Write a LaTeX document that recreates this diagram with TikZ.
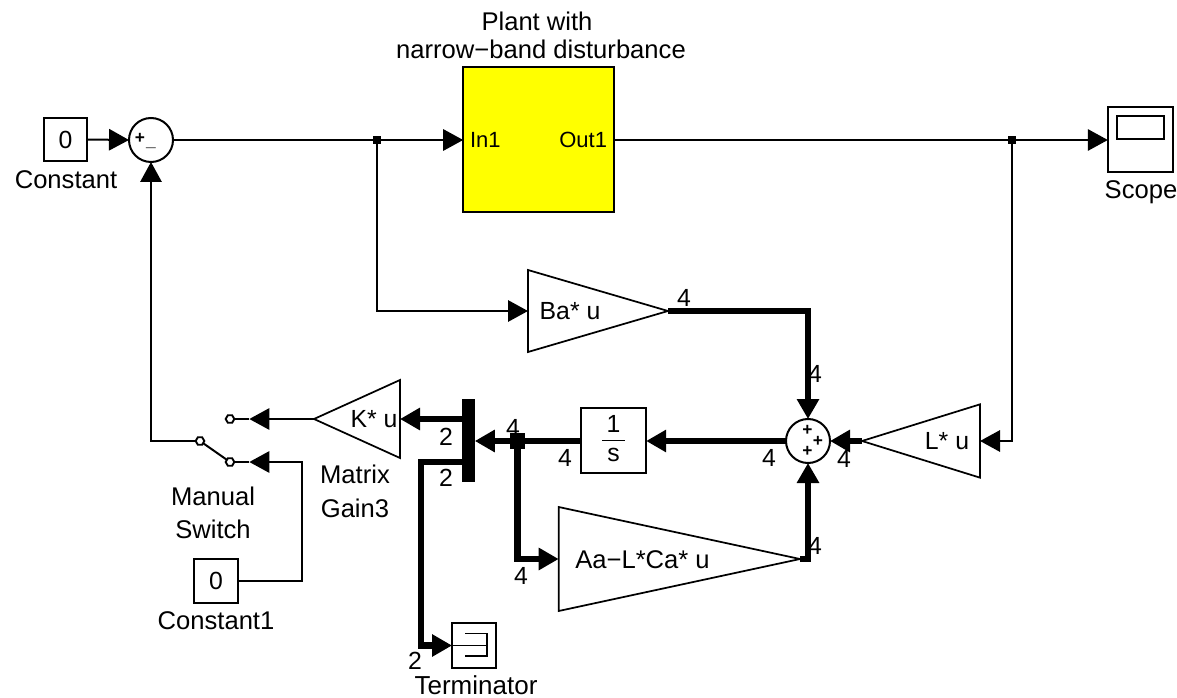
\documentclass[tikz,border=0pt]{standalone}
\usepackage{fontspec}
\setmainfont{Liberation Sans}
\usetikzlibrary{arrows.meta,shapes.geometric,calc}
\definecolor{plantyellow}{RGB}{255,255,0}
\tikzset{
  x=0.75pt,y=-0.75pt,
  txt/.style={inner sep=0pt,outer sep=0pt,font=\fontsize{18.6}{22}\selectfont,align=center},
  lbl/.style={inner sep=0pt,outer sep=0pt,font=\fontsize{19.2}{22}\selectfont,align=center},
  port/.style={inner sep=0pt,outer sep=0pt,font=\fontsize{16.5}{20}\selectfont},
  dim/.style={txt},
  blockbox/.style={draw,line width=1.5pt,rectangle,inner sep=0pt,outer sep=0pt},
  sumc/.style={draw,line width=1.5pt,circle,inner sep=0pt,outer sep=0pt,minimum size=33pt,fill=white},
  gain/.style={draw,line width=1.3pt,isosceles triangle,isosceles triangle stretches,inner sep=0pt,outer sep=0pt},
  sig/.style={line width=1.5pt,-{Triangle[length=15pt,width=16pt]}},
  bus/.style={line width=5pt,-{Triangle[length=15pt,width=16pt]}},
  plain/.style={line width=1.5pt},
  term/.style={draw,line width=1.4pt,regular polygon,regular polygon sides=6,minimum size=6.5pt,inner sep=0pt,outer sep=0pt,fill=white},
  sgn/.style={inner sep=0pt,outer sep=0pt,font=\fontsize{13}{13}\bfseries\selectfont},
  junc/.style={fill,rectangle,inner sep=0pt,outer sep=0pt},
}
\begin{document}
\begin{tikzpicture}
\useasboundingbox (0,0) rectangle (1177,698);
% blocks
\node[blockbox,minimum width=32pt,minimum height=32pt] (const) at (65.5,139.5) {};
\node[txt] (constv) at (65.5,140) {0};
\node[lbl] (constl) at (66,180) {Constant};
\node[sumc] (s1) at (151,140) {};
\node[sgn] (s1p) at (140,138.5) {+};
\node[sgn] (s1m) at (151,148) {\_};
\node[blockbox,fill=plantyellow,minimum width=113pt,minimum height=109pt] (plant) at (538.5,139.5) {};
\node[lbl] (plantl1) at (537,21) {Plant with};
\node[lbl] (plantl2) at (541,49) {narrow−band disturbance};
\node[port,anchor=west] (in1) at (470,140) {In1};
\node[port,anchor=east] (out1) at (607,140) {Out1};
\node[blockbox,minimum width=49pt,minimum height=49pt] (scope) at (1140.5,139.5) {};
\draw[line width=1.5pt] (1117,116) rectangle (1164,139.5);
\node[lbl] (scopel) at (1141,192) {Scope};
\node[gain,anchor=apex,minimum height=105pt,minimum width=61.5pt] (ba) at (668,311) {};
\node[txt] (bal) at (570,311) {Ba* u};
\node[sumc] (s2) at (808,441) {};
\node[sgn] (s2a) at (807.5,430) {+};
\node[sgn] (s2b) at (818,441) {+};
\node[sgn] (s2c) at (807.5,451.5) {+};
\node[gain,anchor=apex,shape border rotate=180,minimum height=88.5pt,minimum width=55pt] (lg) at (862,441) {};
\node[txt] (lgl) at (947,441) {L* u};
\node[blockbox,minimum width=49pt,minimum height=49pt] (intg) at (613.5,440.5) {};
\node[txt] (intn) at (613.5,424) {1};
\draw[line width=1pt] (602,440.5) -- (625,440.5);
\node[txt] (intd) at (613.5,455) {s};
\node[gain,anchor=apex,minimum height=181pt,minimum width=78pt] (aa) at (800,559) {};
\node[lbl] (aal) at (642.5,560) {Aa−L*Ca* u};
\node[gain,anchor=apex,shape border rotate=180,minimum height=64.5pt,minimum width=58.5pt] (kg) at (314,419) {};
\node[txt] (kgl) at (374,419) {K* u};
\node[fill,rectangle,inner sep=0pt,outer sep=0pt,minimum width=9.5pt,minimum height=62pt] (mux) at (468.5,440.5) {};
\node[term] (t1) at (230,419) {};
\node[term] (t2) at (230,462) {};
\node[term] (t0) at (200,441) {};
\node[lbl] (swl) at (213,513) {Manual\\[3pt]Switch};
\node[lbl] (mgl) at (355,491.5) {Matrix\\[3pt]Gain3};
\node[blockbox,minimum width=33pt,minimum height=33pt] (const1) at (216,581) {};
\node[txt] (const1v) at (216,581) {0};
\node[lbl] (const1l) at (216,621) {Constant1};
\node[blockbox,line width=1.1pt,minimum width=33pt,minimum height=33.5pt] (termb) at (474,645.5) {};
\node[lbl,font=\fontsize{19.5}{22}\selectfont] (terml) at (476,685) {Terminator};
\draw[line width=1.1pt] (termb.west) -- (487,645.5);
\draw[line width=1.1pt] (465,633.5) -- (487,633.5) -- (487,656) -- (465,656);
% junctions
\node[junc,minimum size=6pt] (j1) at (377,140) {};
\node[junc,minimum size=6pt] (j2) at (1012,140) {};
\node[junc,minimum size=11.5pt] (j3) at (517.5,441) {};
% signals
\draw[sig] (const.east) -- (s1.west);
\draw[plain] (s1.east) -- (j1.center);
\draw[sig] (j1.center) -- (plant.west |- j1);
\draw[plain] (plant.east |- j2) -- (j2.center);
\draw[sig] (j2.center) -- (scope.west |- j2);
\draw[sig] (j1.center) |- (ba.west);
\draw[bus] (ba.apex) -| (s2.north);
\draw[sig] (j2.center) |- (lg.east);
\draw[bus] (lg.apex) -- (s2.east);
\draw[bus] (s2.west) -- (intg.east |- s2);
\draw[bus] (intg.west |- s2) -- (mux.east |- s2);
\draw[bus] (j3.center) |- (aa.west);
\draw[bus] (aa.apex) -| (s2.south);
\draw[bus] (mux.west |- kg) -- (kg.east);
\draw[sig] (kg.apex) -- ($(t1.east)+(15,0)$);
\draw[plain] ($(t1.east)+(15,0)$) -- (t1.east);
\draw[plain] ($(t2.east)+(15,0)$) -- (t2.east);
\draw[plain,-{Triangle[length=15pt,width=16pt]}] (const1.east) -| (302,462) -- ($(t2.east)+(15,0)$);
\draw[plain] (t0) -- (t2);
\draw[sig] (t0.west) -| (s1.south);
\draw[bus] (mux.west |- t2) -| (421,645.5) -- (termb.west);
% signal dimensions
\node[dim] (d1) at (684,298) {4};
\node[dim] (d2) at (815,374) {4};
\node[dim] (d3) at (769,458) {4};
\node[dim] (d4) at (844,459) {4};
\node[dim] (d5) at (815,546) {4};
\node[dim] (d6) at (565,458) {4};
\node[dim] (d7) at (513,428) {4};
\node[dim] (d8) at (521,576) {4};
\node[dim] (d9) at (446,437) {2};
\node[dim] (d10) at (446,478) {2};
\node[dim] (d11) at (415,661) {2};
\end{tikzpicture}
\end{document}
